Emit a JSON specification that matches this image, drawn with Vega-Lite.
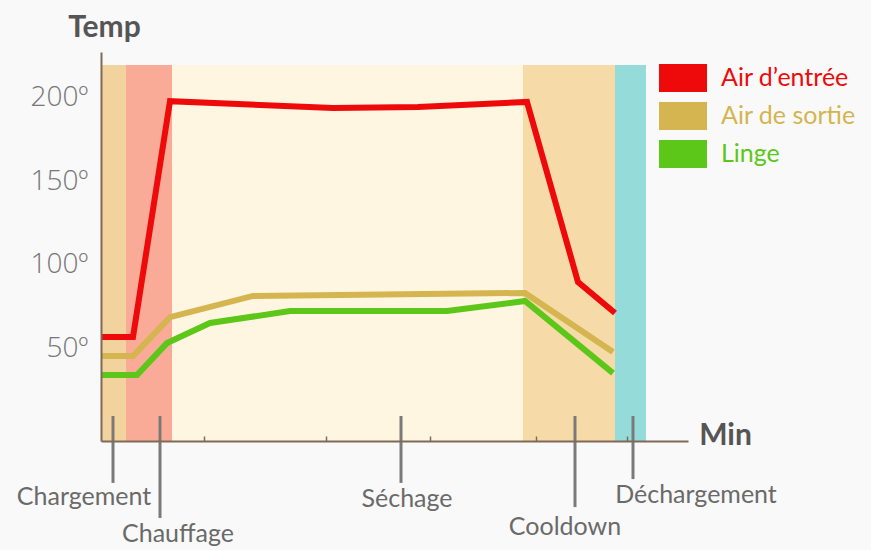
{
  "$schema": "https://vega.github.io/schema/vega-lite/v6.json",
  "width": 587,
  "height": 389,
  "autosize": "none",
  "padding": {"left": 101, "top": 52, "right": 183, "bottom": 109},
  "background": "#f9f9f9",
  "config": {"view": {"stroke": null}},
  "datasets": {
    "phases": [
      {"phase": "Chargement", "start": 0, "end": 2.5},
      {"phase": "Chauffage", "start": 2.5, "end": 7.1},
      {"phase": "Séchage", "start": 7.1, "end": 42.2},
      {"phase": "Cooldown", "start": 42.2, "end": 51.4},
      {"phase": "Déchargement", "start": 51.4, "end": 54.5}
    ],
    "temps": [
      {"series": "Air d’entrée", "t": 0, "temp": 57.0},
      {"series": "Air d’entrée", "t": 3.2, "temp": 57.0},
      {"series": "Air d’entrée", "t": 6.9, "temp": 197.7},
      {"series": "Air d’entrée", "t": 23.2, "temp": 193.6},
      {"series": "Air d’entrée", "t": 31.7, "temp": 194.2},
      {"series": "Air d’entrée", "t": 42.6, "temp": 197.2},
      {"series": "Air d’entrée", "t": 47.7, "temp": 89.8},
      {"series": "Air d’entrée", "t": 51.4, "temp": 71.3},
      {"series": "Air de sortie", "t": 0, "temp": 45.7},
      {"series": "Air de sortie", "t": 3.2, "temp": 45.7},
      {"series": "Air de sortie", "t": 6.9, "temp": 68.9},
      {"series": "Air de sortie", "t": 15.2, "temp": 81.5},
      {"series": "Air de sortie", "t": 42.4, "temp": 83.3},
      {"series": "Air de sortie", "t": 51.2, "temp": 48.1},
      {"series": "Linge", "t": 0, "temp": 34.4},
      {"series": "Linge", "t": 3.6, "temp": 34.4},
      {"series": "Linge", "t": 6.6, "temp": 53.4},
      {"series": "Linge", "t": 10.9, "temp": 65.4},
      {"series": "Linge", "t": 18.9, "temp": 72.5},
      {"series": "Linge", "t": 34.6, "temp": 72.5},
      {"series": "Linge", "t": 42.4, "temp": 78.5},
      {"series": "Linge", "t": 51.2, "temp": 35.5}
    ],
    "notes": [
      {"label": "Chargement", "t": 1.2, "lineTop": 9.9, "lineBottom": -30.0, "labelT": -1.7, "labelTemp": -38.4},
      {"label": "Chauffage", "t": 5.9, "lineTop": 9.9, "lineBottom": -50.9, "labelT": 7.7, "labelTemp": -60.5},
      {"label": "Séchage", "t": 30.0, "lineTop": 9.9, "lineBottom": -30.0, "labelT": 30.6, "labelTemp": -39.6},
      {"label": "Cooldown", "t": 47.4, "lineTop": 9.9, "lineBottom": -44.4, "labelT": 46.4, "labelTemp": -56.3},
      {"label": "Déchargement", "t": 53.2, "lineTop": 9.9, "lineBottom": -27.7, "labelT": 59.5, "labelTemp": -37.2}
    ]
  },
  "encoding": {
    "x": {
      "type": "quantitative",
      "scale": {"domain": [0, 58.7], "nice": false, "zero": false},
      "axis": {
        "title": "Min",
        "titleFont": "Lato",
        "titleFontWeight": "bold",
        "titleFontSize": 30,
        "titleColor": "#555555",
        "titleAngle": 0,
        "titleAlign": "center",
        "titleBaseline": "middle",
        "titleX": 624,
        "titleY": -6,
        "values": [10.3, 22.5, 32.9, 43.5, 52.6],
        "labels": false,
        "grid": false,
        "domainColor": "#7f6a58",
        "domainWidth": 2,
        "tickColor": "#7f6a58",
        "tickWidth": 1.5,
        "tickSize": -5,
        "zindex": 1
      }
    },
    "y": {
      "type": "quantitative",
      "scale": {"domain": [-5, 227], "nice": false, "zero": false},
      "axis": {
        "title": "Temp",
        "titleFont": "Lato",
        "titleFontWeight": "bold",
        "titleFontSize": 30,
        "titleColor": "#555555",
        "titleAngle": 0,
        "titleAlign": "center",
        "titleBaseline": "middle",
        "titleX": 3,
        "titleY": -25,
        "values": [50, 100, 150, 200],
        "labelExpr": "datum.value + 'º'",
        "labelFont": "Open Sans",
        "labelFontWeight": 300,
        "labelFontSize": 28,
        "labelColor": "#777777",
        "labelPadding": 13,
        "ticks": false,
        "tickSize": 0,
        "grid": false,
        "domainColor": "#7f6a58",
        "domainWidth": 2,
        "zindex": 1
      }
    }
  },
  "layer": [
    {
      "data": {"name": "phases"},
      "mark": {"type": "rect"},
      "encoding": {
        "x": {"field": "start"},
        "x2": {"field": "end"},
        "y": {"datum": 219.2},
        "y2": {"datum": -5},
        "fill": {
          "field": "phase",
          "type": "nominal",
          "scale": {
            "domain": ["Chargement", "Chauffage", "Séchage", "Cooldown", "Déchargement"],
            "range": ["#F3D39D", "#FAAB97", "#FEF6E0", "#F6DBA9", "#94DBD9"]
          },
          "legend": null
        }
      }
    },
    {
      "data": {"name": "temps"},
      "mark": {"type": "line", "strokeWidth": 6, "strokeJoin": "miter", "strokeCap": "butt"},
      "encoding": {
        "x": {"field": "t"},
        "y": {"field": "temp"},
        "color": {
          "field": "series",
          "type": "nominal",
          "scale": {
            "domain": ["Air d’entrée", "Air de sortie", "Linge"],
            "range": ["#EE0A0A", "#D4B54F", "#5CC718"]
          },
          "legend": {
            "title": null,
            "orient": "none",
            "legendX": 558,
            "legendY": 2,
            "padding": 0,
            "labelFont": "Lato",
            "labelFontSize": 25,
            "labelOffset": 14,
            "rowPadding": -11,
            "symbolType": "M-1,-0.583H1V0.583H-1Z",
            "symbolSize": 2304,
            "symbolStrokeWidth": 0,
            "encode": {
              "symbols": {
                "update": {
                  "fill": {"scale": "color", "field": "value"},
                  "fillOpacity": {"value": 1},
                  "strokeWidth": {"value": 0}
                }
              },
              "labels": {
                "update": {
                  "fill": {"scale": "color", "field": "value"}
                }
              }
            }
          }
        }
      }
    },
    {
      "data": {"name": "notes"},
      "mark": {"type": "rule", "color": "#7a7a7a", "strokeWidth": 3},
      "encoding": {
        "x": {"field": "t"},
        "y": {"field": "lineTop"},
        "y2": {"field": "lineBottom"}
      }
    },
    {
      "data": {"name": "notes"},
      "mark": {"type": "text", "font": "Lato", "fontSize": 25, "color": "#6a6a6a", "align": "center", "baseline": "middle"},
      "encoding": {
        "x": {"field": "labelT"},
        "y": {"field": "labelTemp"},
        "text": {"field": "label"}
      }
    }
  ]
}
